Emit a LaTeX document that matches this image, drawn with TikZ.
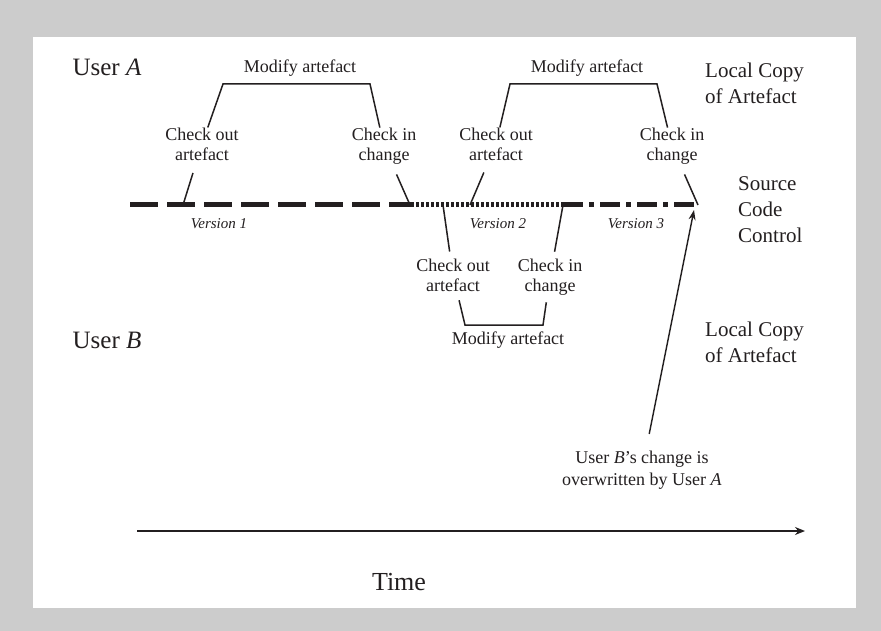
\documentclass[tikz,border=0pt]{standalone}
\usepackage{fontspec}
\setmainfont{Liberation Serif}
\usepackage{xcolor}
\usetikzlibrary{arrows.meta}
\definecolor{panel}{gray}{0.8}
\definecolor{ink}{HTML}{231F20}

\begin{document}
\begin{tikzpicture}[x=1pt,y=-1pt,
                every node/.append style = {text=ink, inner sep=0pt},
                lbl/.style = {align=center, font=\fontsize{18}{20}\selectfont},
                side/.style = {anchor=west, align=left, font=\fontsize{21}{26}\selectfont},
                who/.style = {anchor=base, font=\fontsize{25}{30}\selectfont},
                ver/.style = {anchor=base, font=\fontsize{15}{17}\selectfont\itshape},
                wire/.style = {draw=ink, line width=1.5pt},
                track/.style = {draw=ink, line width=5pt}]
            \fill[panel] (0,0) rectangle (881,631);
            \fill[white] (33,37) rectangle (856,608);
            % source code control line
            \coordinate (v0) at (130,205);
            \coordinate (v1) at (411,205);
            \coordinate (v2) at (563,205);
            \coordinate (v3) at (697,205);
            \draw[track, dash pattern=on 28pt off 9pt] (v0) -- (v1);
            \draw[track, dash pattern=on 3pt off 2pt] (v1) -- (v2);
            \draw[track, dash pattern=on 20pt off 6pt on 5pt off 6pt] (v2) -- (v3);
            \node[ver] (ver1) at (219,229) {Version 1};
            \node[ver] (ver2) at (498,229) {Version 2};
            \node[ver] (ver3) at (636,229) {Version 3};
            % user A
            \node[who] (usera) at (107,76) {User \textit{A}};
            \node[lbl] (coA1) at (202,144) {Check out\\artefact};
            \node[lbl] (ciA1) at (384,146) {Check in\\change};
            \node[lbl] (coA2) at (496,144) {Check out\\artefact};
            \node[lbl] (ciA2) at (672,146) {Check in\\change};
            \node[lbl] (mdA1) at (300,68) {Modify artefact};
            \node[lbl] (mdA2) at (587,68) {Modify artefact};
            \coordinate (pA1o) at (183,205);
            \coordinate (pA1i) at (410,205);
            \coordinate (pA2o) at (470,205);
            \coordinate (pA2i) at (698,205);
            \coordinate (tA1o) at (223,84);
            \coordinate (tA1i) at (370,84);
            \coordinate (tA2o) at (510,84);
            \coordinate (tA2i) at (657,84);
            \draw[wire, shorten >=13pt] (pA1o) -- (coA1);
            \draw[wire] (coA1) -- (tA1o) -- (tA1i) -- (ciA1);
            \draw[wire, shorten <=11pt] (ciA1) -- (pA1i);
            \draw[wire, shorten >=13pt] (pA2o) -- (coA2);
            \draw[wire] (coA2) -- (tA2o) -- (tA2i) -- (ciA2);
            \draw[wire, shorten <=11pt] (ciA2) -- (pA2i);
            % user B
            \node[who] (userb) at (107,348) {User \textit{B}};
            \node[lbl] (coB) at (453,275) {Check out\\artefact};
            \node[lbl] (ciB) at (550,277) {Check in\\change};
            \node[lbl] (mdB) at (508,340) {Modify artefact};
            \coordinate (pBo) at (443,205);
            \coordinate (pBi) at (563,205);
            \coordinate (tBo) at (465,325);
            \coordinate (tBi) at (543,325);
            \draw[wire, shorten >=7pt] (pBo) -- (coB);
            \draw[wire, shorten <=9pt, shorten >=7pt] (coB) -- (tBo) -- (tBi) -- (ciB);
            \draw[wire, shorten <=7pt] (ciB) -- (pBi);
            % right hand column
            \node[side] (locA) at (705,83) {Local Copy\\of Artefact};
            \node[side] (scc) at (738,210) {Source\\Code\\Control};
            \node[side] (locB) at (705,342) {Local Copy\\of Artefact};
            % overwrite note
            \node[lbl, font=\fontsize{18}{22}\selectfont] (lost) at (642,470) {User \textit{B}'s change is\\overwritten by User \textit{A}};
            \coordinate (hit) at (694,210);
            \draw[wire, line width=1.4pt, shorten <=17pt, -{Stealth[length=10pt,width=7pt]}] (lost) -- (hit);
            % time axis
            \coordinate (t0) at (137,531);
            \coordinate (t1) at (805,531);
            \draw[wire, line width=2.5pt, -{Stealth[length=10pt,width=8pt]}] (t0) -- (t1);
            \node[anchor=base, font=\fontsize{26}{30}\selectfont] (time) at (399,590) {Time};
            \end{tikzpicture}
\end{document}
